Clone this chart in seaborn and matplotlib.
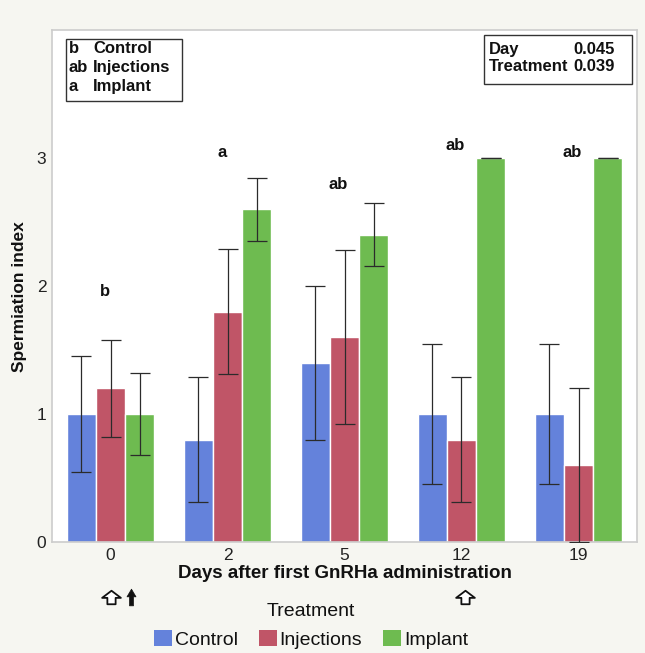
import numpy as np
import pandas as pd
import matplotlib
matplotlib.use("Agg")
import matplotlib.pyplot as plt
import matplotlib.patches as mpatches
import matplotlib.transforms as mtransforms
from matplotlib.path import Path
import seaborn as sns

# Data
days = ["0", "2", "5", "12", "19"]
treatments = ["Control", "Injections", "Implant"]
control_mean = [1.0, 0.8, 1.4, 1.0, 1.0]
injections_mean = [1.2, 1.8, 1.6, 0.8, 0.6]
implant_mean = [1.0, 2.6, 2.4, 3.0, 3.0]
control_err = [0.45, 0.49, 0.60, 0.55, 0.55]
injections_err = [0.38, 0.49, 0.68, 0.49, 0.60]
implant_err = [0.32, 0.245, 0.245, 0.0, 0.0]
group_letters = ["b", "a", "ab", "ab", "ab"]
group_letter_y = [1.96, 3.04, 2.79, 3.10, 3.04]
treatment_letters = ["b", "ab", "a"]
p_labels = ["Day", "Treatment"]
p_values = ["0.045", "0.039"]

colors = ["#6482DB", "#C05567", "#6EBB50"]
bg = "#F6F6F1"

rows = []
for t, means, errs in zip(treatments,
                          [control_mean, injections_mean, implant_mean],
                          [control_err, injections_err, implant_err]):
    for d, m, e in zip(days, means, errs):
        rows.append({"Day": d, "Treatment": t, "mean": m, "err": e})
df = pd.DataFrame(rows)

sns.set_theme(style="white")
plt.rcParams["font.family"] = ["Liberation Sans", "DejaVu Sans"]

fig = plt.figure(figsize=(6.45, 6.53), dpi=100, facecolor=bg)
ax = fig.add_axes([52 / 645, 1 - 542 / 653, 585 / 645, 512 / 653])
ax.set_facecolor("white")

sns.barplot(data=df, x="Day", y="mean", hue="Treatment", order=days,
            hue_order=treatments, palette=colors, errorbar=None,
            width=0.75, saturation=1, ax=ax)

# Error bars at the centre of each bar
for container, t in zip(ax.containers, treatments):
    sub = df[df["Treatment"] == t].set_index("Day").loc[days]
    xs = [p.get_x() + p.get_width() / 2 for p in container.patches]
    ax.errorbar(xs, sub["mean"].values, yerr=sub["err"].values, fmt="none",
                ecolor="#2b2b2b", elinewidth=0.9, capsize=7.2, capthick=0.9,
                zorder=3)

ax.set_ylim(0, 4)
ax.set_xlim(-0.5, 4.5)
ax.set_yticks([0, 1, 2, 3])
ax.set_yticklabels(["0", "1", "2", "3"])
ax.tick_params(axis="both", length=0, labelsize=12.5, colors="#222222", pad=4)
ax.set_xlabel("Days after first GnRHa administration", fontsize=13.5,
              fontweight="bold", color="#111111", labelpad=2)
ax.set_ylabel("Spermiation index", fontsize=12.5, fontweight="bold",
              color="#111111")
ax.yaxis.set_label_coords(-0.042, 0.48)
for s in ax.spines.values():
    s.set_color("#CCCCCC")
    s.set_linewidth(1.2)

# Letters above the day groups
for i, (lab, yy) in enumerate(zip(group_letters, group_letter_y)):
    ax.text(i - 0.05, yy, lab, ha="center", va="center", fontsize=12,
            fontweight="bold", color="#111111")

# Box with treatment letters
ax.add_patch(mpatches.Rectangle((0.024, 0.861), 0.198, 0.121,
                                transform=ax.transAxes, fill=False,
                                edgecolor="#333333", linewidth=1.0))
for k, (lt, nm) in enumerate(zip(treatment_letters, treatments)):
    yy = 0.963 - k * 0.0365
    ax.text(0.029, yy, lt, transform=ax.transAxes, ha="left", va="center",
            fontsize=12, fontweight="bold", color="#111111")
    ax.text(0.070, yy, nm, transform=ax.transAxes, ha="left", va="center",
            fontsize=12, fontweight="bold", color="#111111")

# Box with p-values
ax.add_patch(mpatches.Rectangle((0.739, 0.895), 0.253, 0.096,
                                transform=ax.transAxes, fill=False,
                                edgecolor="#333333", linewidth=1.0))
for k, (nm, pv) in enumerate(zip(p_labels, p_values)):
    yy = 0.961 - k * 0.032
    ax.text(0.746, yy, nm, transform=ax.transAxes, ha="left", va="center",
            fontsize=12, fontweight="bold", color="#111111")
    ax.text(0.962, yy, pv, transform=ax.transAxes, ha="right", va="center",
            fontsize=12, fontweight="bold", color="#111111")

# Treatment arrows under the axis (open: implant, filled: injection)
open_arrow = Path([(0, 0.36), (0.5, -0.02), (0.22, -0.02), (0.22, -0.36),
                   (-0.22, -0.36), (-0.22, -0.02), (-0.5, -0.02), (0, 0.36)],
                  closed=True)
filled_arrow = Path([(0, 0.5), (0.27, 0.04), (0.12, 0.04), (0.12, -0.5),
                     (-0.12, -0.5), (-0.12, 0.04), (-0.27, 0.04), (0, 0.5)],
                    closed=True)
trans = mtransforms.blended_transform_factory(ax.transData, ax.transAxes)
ax.plot([0.004, 3.03], [-0.107, -0.107], transform=trans, linestyle="none",
        marker=open_arrow, markersize=13.5, markerfacecolor="white",
        markeredgecolor="#111111", markeredgewidth=1.3, clip_on=False)
ax.plot([0.175], [-0.107], transform=trans, linestyle="none",
        marker=filled_arrow, markersize=12, markerfacecolor="#111111",
        markeredgecolor="#111111", markeredgewidth=0.5, clip_on=False)

# Legend
handles = [mpatches.Patch(facecolor=c, edgecolor="none") for c in colors]
ax.get_legend().remove()
leg = fig.legend(handles, treatments, title="Treatment", loc="center",
                 bbox_to_anchor=(311 / 645, 1 - 626 / 653), ncol=3,
                 frameon=False, fontsize=14, title_fontsize=14,
                 handlelength=0.93, handleheight=0.93, handletextpad=0.15,
                 columnspacing=1.07, borderaxespad=0, labelspacing=0.5)
for txt in leg.get_texts():
    txt.set_color("#111111")
leg.get_title().set_color("#111111")

fig.savefig("out.png", dpi=100, facecolor=bg)
